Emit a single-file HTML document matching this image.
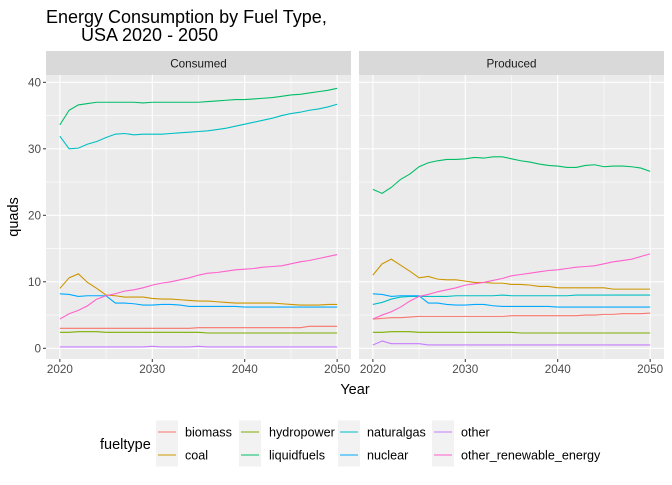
<!DOCTYPE html>
<html><head><meta charset="utf-8"><style>
body{margin:0;background:#fff;}
svg{font-family:"Liberation Sans",Arial,sans-serif;}
</style></head><body>
<svg id="chart" width="672" height="480" viewBox="0 0 672 480">
<text x="46" y="23" font-size="18" fill="#000">Energy Consumption by Fuel Type,</text>
<text x="81" y="41" font-size="18" fill="#000">USA 2020 - 2050</text>
<g id="panels"></g>
<text x="355" y="394" font-size="14.5" text-anchor="middle" fill="#000">Year</text>
<text x="0" y="0" font-size="14.5" text-anchor="middle" fill="#000" transform="translate(18,217) rotate(-90)">quads</text>
<g id="legend">
<text x="100" y="449" font-size="14.5" fill="#000">fueltype</text>
</g>
</svg>
<script>
const years=[];for(let y=2020;y<=2050;y++)years.push(y);
const fuelTypes=["biomass","coal","hydropower","liquidfuels","naturalgas","nuclear","other","other_renewable_energy"];
const colors=["#F8766D","#CD9600","#7CAE00","#00BE67","#00BFC4","#00A9FF","#C77CFF","#FF61CC"];
const panelNames=["Consumed","Produced"];
const yTicks=[0,10,20,30,40];
const xTicks=[2020,2030,2040,2050];
const consumedBiomass=[3,3,3,3,3,3,3,3,3,3,3,3,3,3,3,3.1,3.1,3.1,3.1,3.1,3.1,3.1,3.1,3.1,3.1,3.1,3.1,3.3,3.3,3.3,3.3];
const consumedCoal=[9,10.6,11.2,9.9,9,8,7.9,7.7,7.7,7.7,7.5,7.4,7.4,7.3,7.2,7.1,7.1,7,6.9,6.8,6.8,6.8,6.8,6.8,6.7,6.6,6.5,6.5,6.5,6.6,6.6];
const consumedHydro=[2.4,2.4,2.5,2.5,2.5,2.4,2.4,2.4,2.4,2.4,2.4,2.4,2.4,2.4,2.4,2.4,2.3,2.3,2.3,2.3,2.3,2.3,2.3,2.3,2.3,2.3,2.3,2.3,2.3,2.3,2.3];
const consumedLiquid=[33.6,35.8,36.6,36.8,37,37,37,37,37,36.9,37,37,37,37,37,37,37.1,37.2,37.3,37.4,37.4,37.5,37.6,37.7,37.9,38.1,38.2,38.4,38.6,38.8,39.1];
const consumedGas=[31.9,30,30.1,30.7,31.1,31.7,32.2,32.3,32.1,32.2,32.2,32.2,32.3,32.4,32.5,32.6,32.7,32.9,33.1,33.4,33.7,34,34.3,34.6,35,35.3,35.5,35.8,36,36.3,36.7];
const consumedNuclear=[8.2,8.1,7.8,7.9,7.9,7.9,6.8,6.8,6.7,6.5,6.5,6.6,6.6,6.5,6.3,6.3,6.3,6.3,6.3,6.3,6.2,6.2,6.2,6.2,6.2,6.2,6.2,6.2,6.2,6.2,6.2];
const consumedOther=[0.2,0.2,0.2,0.2,0.2,0.2,0.2,0.2,0.2,0.2,0.3,0.2,0.2,0.2,0.2,0.3,0.2,0.2,0.2,0.2,0.2,0.2,0.2,0.2,0.2,0.2,0.2,0.2,0.2,0.2,0.2];
const consumedOtherRenew=[4.4,5.2,5.7,6.4,7.4,7.9,8.2,8.6,8.8,9.1,9.5,9.8,10,10.3,10.6,11,11.3,11.4,11.6,11.8,11.9,12,12.2,12.3,12.4,12.7,13,13.2,13.5,13.8,14.1];
const producedBiomass=[4.4,4.5,4.6,4.6,4.7,4.8,4.8,4.8,4.8,4.8,4.8,4.8,4.8,4.8,4.8,4.9,4.9,4.9,4.9,4.9,4.9,4.9,4.9,5,5,5.1,5.1,5.2,5.2,5.2,5.3];
const producedCoal=[11,12.7,13.4,12.5,11.6,10.6,10.8,10.4,10.3,10.3,10.1,9.9,9.9,9.8,9.8,9.6,9.6,9.5,9.3,9.3,9.1,9.1,9.1,9.1,9.1,9.1,8.9,8.9,8.9,8.9,8.9];
const producedHydro=[2.4,2.4,2.5,2.5,2.5,2.4,2.4,2.4,2.4,2.4,2.4,2.4,2.4,2.4,2.4,2.4,2.3,2.3,2.3,2.3,2.3,2.3,2.3,2.3,2.3,2.3,2.3,2.3,2.3,2.3,2.3];
const producedLiquid=[23.9,23.3,24.2,25.4,26.2,27.3,27.9,28.2,28.4,28.4,28.5,28.7,28.6,28.8,28.8,28.5,28.2,28,27.7,27.5,27.4,27.2,27.2,27.5,27.6,27.3,27.4,27.4,27.3,27.1,26.6];
const producedGas=[6.6,6.9,7.4,7.7,7.8,7.8,7.8,7.8,7.8,7.9,7.9,7.9,7.9,7.9,8,7.9,7.9,7.9,7.9,7.9,7.9,7.9,8,8,8,8,8,8,8,8,8];
const producedNuclear=[8.2,8.1,7.8,7.9,7.9,7.9,6.8,6.8,6.6,6.5,6.5,6.6,6.6,6.4,6.3,6.3,6.3,6.3,6.3,6.3,6.2,6.2,6.2,6.2,6.2,6.2,6.2,6.2,6.2,6.2,6.2];
const producedOther=[0.5,1.1,0.7,0.7,0.7,0.7,0.5,0.5,0.5,0.5,0.5,0.5,0.5,0.5,0.5,0.5,0.5,0.5,0.5,0.5,0.5,0.5,0.5,0.5,0.5,0.5,0.5,0.5,0.5,0.5,0.5];
const producedOtherRenew=[4.4,5,5.5,6.2,7.1,7.8,8.1,8.5,8.8,9.1,9.5,9.7,9.9,10.2,10.5,10.9,11.1,11.3,11.5,11.7,11.8,12,12.2,12.3,12.4,12.7,13,13.2,13.4,13.8,14.2];

const NS="http://www.w3.org/2000/svg";
function mk(t,a,p){const e=document.createElementNS(NS,t);for(const k in a)e.setAttribute(k,a[k]);p.appendChild(e);return e;}
const panelSeries=[
 [consumedBiomass,consumedCoal,consumedHydro,consumedLiquid,consumedGas,consumedNuclear,consumedOther,consumedOtherRenew],
 [producedBiomass,producedCoal,producedHydro,producedLiquid,producedGas,producedNuclear,producedOther,producedOtherRenew]];
const panels=[{l:46,r:351},{l:359,r:664}];
const plotTop=75,plotBot=359;
const yScale=v=>348.3-(v-0)*(348.3-82.3)/40;
const root=document.getElementById('panels');
panels.forEach((p,pi)=>{
  const xmin=2018.5,xmax=2051.5;
  const xScale=v=>p.l+(v-xmin)/(xmax-xmin)*(p.r-p.l);
  const g=mk('g',{},root);
  
  
  const strip=mk('rect',{x:p.l,y:51,width:p.r-p.l,height:24,fill:'#D9D9D9'},g);
  
  
  const st=mk('text',{x:(p.l+p.r)/2,y:67.5,'font-size':11.7,'text-anchor':'middle',fill:'#1A1A1A'},g);
  st.textContent=panelNames[pi];
  
  
  const bg=mk('rect',{x:p.l,y:plotTop,width:p.r-p.l,height:plotBot-plotTop,fill:'#EBEBEB'},g);
  
  
  for(let i=0;i<yTicks.length-1;i++){const m=(yTicks[i]+yTicks[i+1])/2;
    const ln=mk('line',{x1:p.l,x2:p.r,y1:yScale(m),y2:yScale(m),stroke:'#fff','stroke-width':0.55},g);
    
    }
  for(let i=0;i<xTicks.length-1;i++){const m=(xTicks[i]+xTicks[i+1])/2;
    const ln=mk('line',{x1:xScale(m),x2:xScale(m),y1:plotTop,y2:plotBot,stroke:'#fff','stroke-width':0.55},g);
    
    }
  yTicks.forEach(t=>{const ln=mk('line',{x1:p.l,x2:p.r,y1:yScale(t),y2:yScale(t),stroke:'#fff','stroke-width':1.1},g);
    
    
    if(pi===0){const tk=mk('line',{x1:p.l-3,x2:p.l,y1:yScale(t),y2:yScale(t),stroke:'#333','stroke-width':1},g);
      
      
      const tx=mk('text',{x:p.l-5,y:yScale(t)+4,'font-size':11.7,'text-anchor':'end',fill:'#4D4D4D'},g);
      tx.textContent=t;
      
      }});
  xTicks.forEach(t=>{const ln=mk('line',{x1:xScale(t),x2:xScale(t),y1:plotTop,y2:plotBot,stroke:'#fff','stroke-width':1.1},g);
    
    
    const tk=mk('line',{x1:xScale(t),x2:xScale(t),y1:plotBot,y2:plotBot+3,stroke:'#333','stroke-width':1},g);
    
    
    const tx=mk('text',{x:xScale(t),y:plotBot+14,'font-size':11.7,'text-anchor':'middle',fill:'#4D4D4D'},g);
    tx.textContent=t;
    
    });
  panelSeries[pi].forEach((vals,si)=>{
    const d=vals.map((v,i)=>(i?'L':'M')+xScale(years[i]).toFixed(2)+','+yScale(v).toFixed(2)).join('');
    const pa=mk('path',{d:d,fill:'none',stroke:colors[si],'stroke-width':1.1},g);
    
    
  });
});
const leg=document.getElementById('legend');
const keyX=[156,239,338,432],labX=[185,269,367,461],rowY=[432,455];
fuelTypes.forEach((f,i)=>{
  const c=Math.floor(i/2),r=i%2;
  const g=mk('g',{},leg);
  
  
  mk('rect',{x:keyX[c],y:rowY[r]-11.5,width:22,height:23,fill:'#F2F2F2'},g);
  mk('line',{x1:keyX[c]+2,x2:keyX[c]+20,y1:rowY[r],y2:rowY[r],stroke:colors[i],'stroke-width':1.1},g);
  const t=mk('text',{x:labX[c],y:rowY[r]+4.5,'font-size':12.6,fill:'#000'},g);
  t.textContent=f;
});
</script>
</body></html>
